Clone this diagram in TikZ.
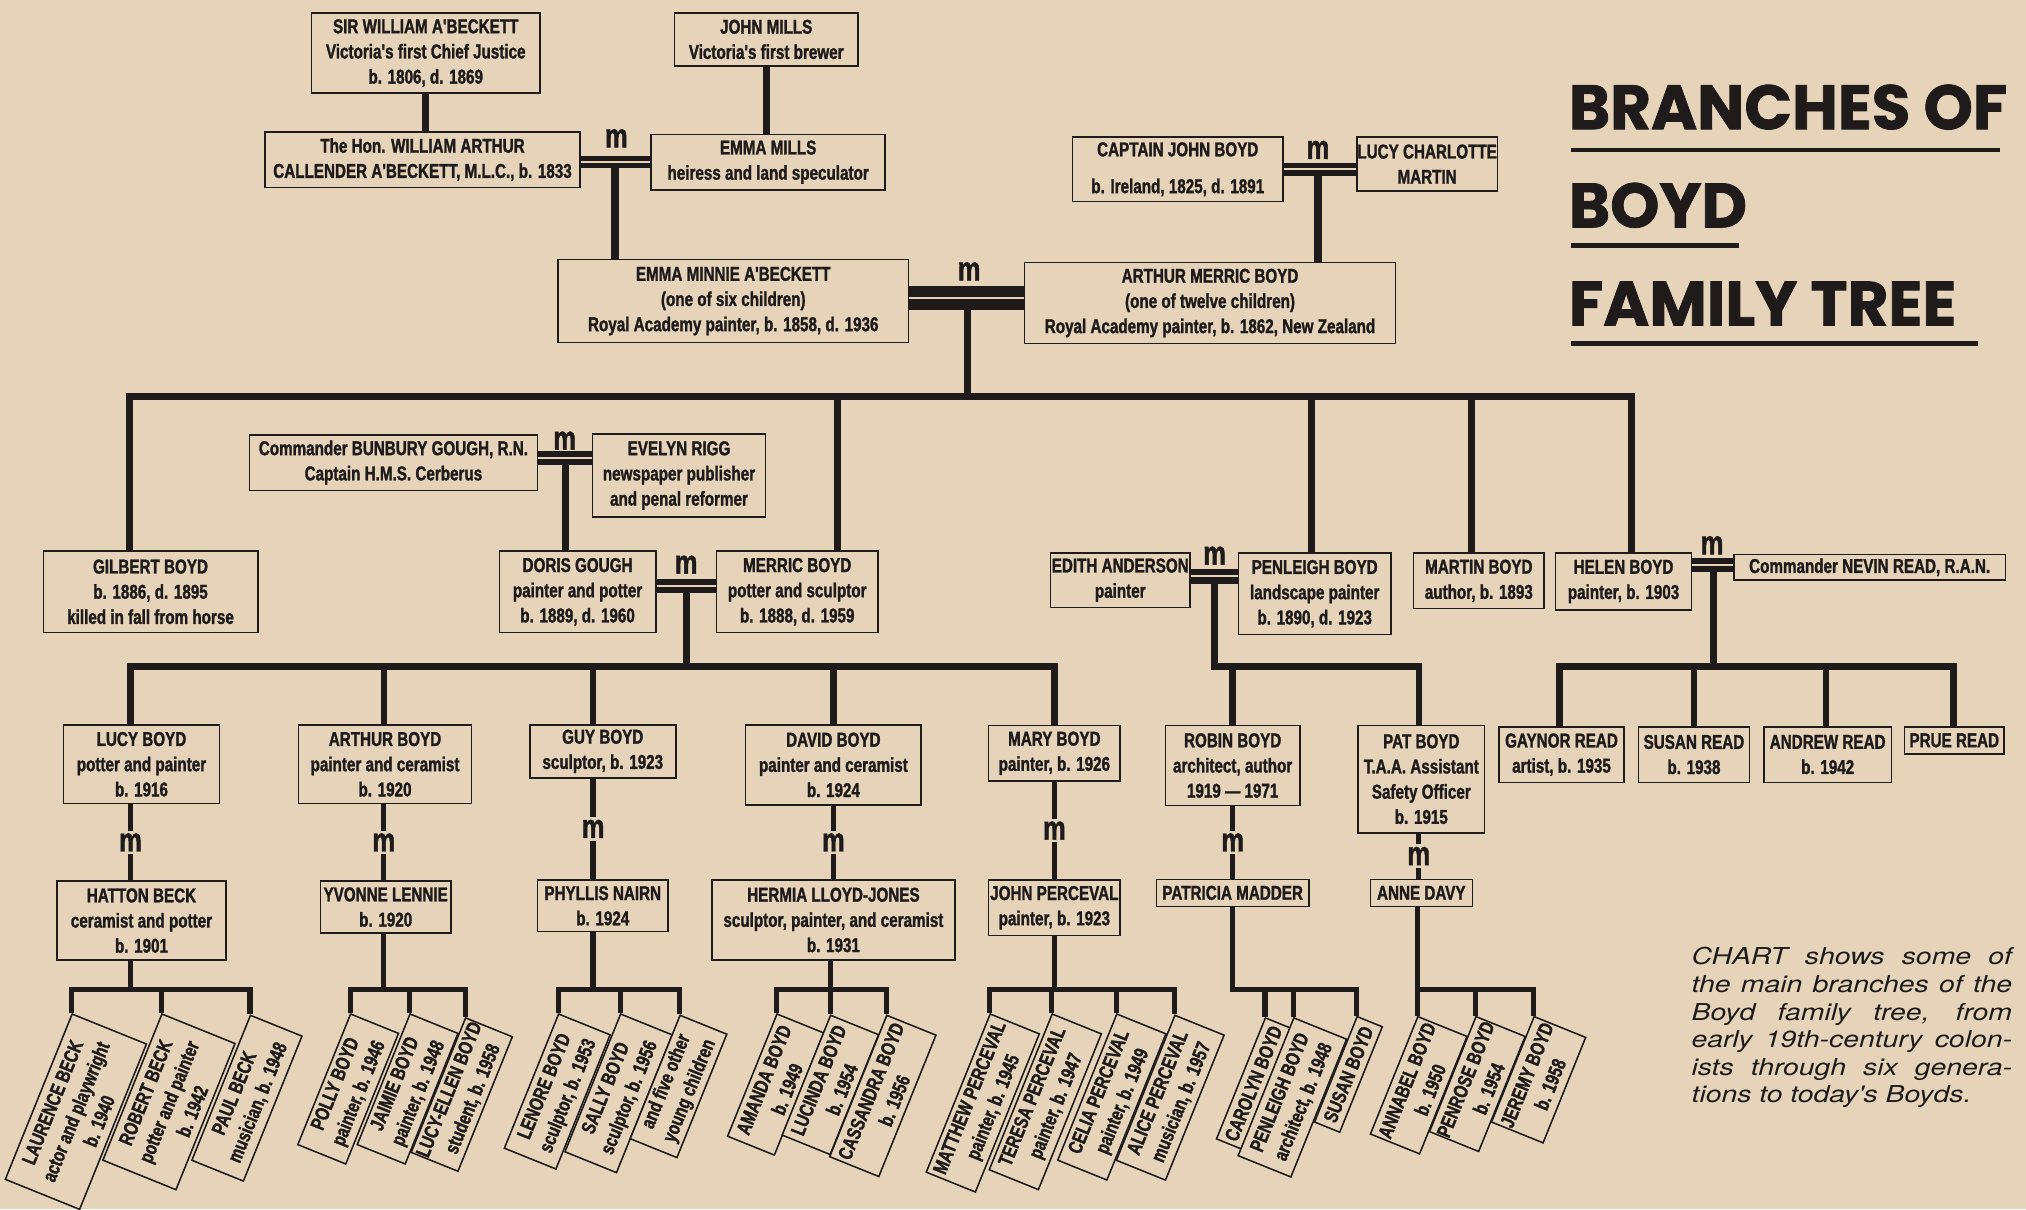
\documentclass[tikz,border=0pt]{standalone}
\usepackage{fontspec}
\newfontfamily\cond[FakeStretch=0.76, BoldFeatures={FakeBold=1.4}]{Liberation Sans}
\newfontfamily\titlefont[BoldFeatures={FakeBold=1.2}]{Poppins}
\newfontfamily\capfont[FakeStretch=1.22]{TeX Gyre Heros}
\usetikzlibrary{calc}
\definecolor{paper}{RGB}{229,212,185}
\definecolor{ink}{RGB}{30,27,26}

\begin{document}
\begin{tikzpicture}[
  x=1pt, y=-1pt,
  person/.style={
    draw=ink,
    line width=1.2pt,
    fill=paper,
    text=ink,
    inner sep=0.5pt,
    align=center,
    font=\cond\bfseries\fontsize{15.5}{19.5}\selectfont
  },
  dims/.style 2 args={minimum width=#1pt, minimum height=#2pt},
  kid/.style={person, rotate=68, anchor=north east},
  trunk/.style={ink, line width=5.5pt},
  twig/.style={ink, line width=4pt},
  wed/.style={ink, line width=#1pt, postaction={draw, paper, line width=1.4pt}},
  mlabel/.style={text=ink, inner sep=1pt, font=\cond\bfseries\fontsize{26}{26}\selectfont},
  mgap/.style={mlabel, fill=paper, inner sep=2pt},
  heading/.style={anchor=base west, inner sep=0pt, text=ink, font=\titlefont\bfseries\fontsize{48.5}{48.5}\selectfont},
  rule/.style={ink, line width=3.5pt}
]
  \useasboundingbox (0,0) rectangle (1568,936);
  \fill[paper] (0,0) rectangle (1568,936);

  % first generations
  \node[person, dims={177}{62}] (sirw) at (329.5,41)
    {SIR WILLIAM A'BECKETT\\Victoria's first Chief Justice\\b. 1806, d. 1869};
  \node[person, dims={142}{41}] (jmills) at (593,30.5)
    {JOHN MILLS\\Victoria's first brewer};
  \node[person, dims={244}{43}] (wabeck) at (327,123.5)
    {The Hon. WILLIAM ARTHUR\\CALLENDER A'BECKETT, M.L.C., b. 1833};
  \node[person, dims={181}{43}] (emills) at (594.5,125.5)
    {EMMA MILLS\\heiress and land speculator};
  \node[person, dims={163}{50}] (jboyd) at (911.5,131)
    {CAPTAIN JOHN BOYD\\[9pt]b. Ireland, 1825, d. 1891};
  \node[person, dims={107}{42}] (lcmartin) at (1104.5,127)
    {LUCY CHARLOTTE\\MARTIN};
  \node[person, dims={271}{64}] (eminnie) at (567.5,233)
    {EMMA MINNIE A'BECKETT\\(one of six children)\\Royal Academy painter, b. 1858, d. 1936};
  \node[person, dims={287}{63}] (amerric) at (936.5,234.5)
    {ARTHUR MERRIC BOYD\\(one of twelve children)\\Royal Academy painter, b. 1862, New Zealand};

  \draw[trunk] (sirw.south) -- (sirw.south |- wabeck.north);
  \draw[trunk] (jmills.south) -- (jmills.south |- emills.north);

  \coordinate (mAM) at (476,125.5);
  \draw[trunk] (mAM) -- (mAM |- eminnie.north);
  \draw[wed=9] (wabeck.east |- mAM) -- (emills.west |- mAM);
  \node[mlabel] (m1) at (477,107) {m};

  \coordinate (mBM) at (1020,131);
  \draw[trunk] (mBM) -- (mBM |- amerric.north);
  \draw[wed=10] (jboyd.east |- mBM) -- (lcmartin.west |- mBM);
  \node[mlabel] (m2) at (1020,116) {m};

  \coordinate (mMB) at (749,230.5);
  \coordinate (bigbar) at (749,307);
  \draw[trunk] (mMB) -- (bigbar);
  \draw[wed=19] (eminnie.east |- mMB) -- (amerric.west |- mMB);
  \node[mlabel] (m3) at (750,210) {m};

  % children of Arthur Merric Boyd
  \node[person, dims={223}{43}] (bgough) at (304.5,358)
    {Commander BUNBURY GOUGH, R.N.\\Captain H.M.S. Cerberus};
  \node[person, dims={134}{64}] (erigg) at (525.5,368)
    {EVELYN RIGG\\newspaper publisher\\and penal reformer};
  \node[person, dims={166}{63}] (gilbert) at (116.5,458)
    {GILBERT BOYD\\b. 1886, d. 1895\\killed in fall from horse};
  \node[person, dims={121}{63}] (doris) at (447,458)
    {DORIS GOUGH\\painter and potter\\b. 1889, d. 1960};
  \node[person, dims={125}{63}] (merric) at (617,458)
    {MERRIC BOYD\\potter and sculptor\\b. 1888, d. 1959};
  \node[person, dims={108}{42}] (edith) at (867,449)
    {EDITH ANDERSON\\painter};
  \node[person, dims={118}{63}] (penleigh) at (1017.5,459.5)
    {PENLEIGH BOYD\\landscape painter\\b. 1890, d. 1923};
  \node[person, dims={101}{43}] (martin) at (1144.5,449.5)
    {MARTIN BOYD\\author, b. 1893};
  \node[person, dims={105}{44}] (helen) at (1256.5,450)
    {HELEN BOYD\\painter, b. 1903};
  \node[person, dims={210}{20}] (nread) at (1447,439)
    {Commander NEVIN READ, R.A.N.};

  \coordinate (cGilbert) at (100,307);
  \coordinate (cMerric) at (648,307);
  \coordinate (cPenleigh) at (1015,307);
  \coordinate (cMartin) at (1139,307);
  \coordinate (cHelen) at (1263,307);
  \draw[trunk] (cGilbert |- gilbert.north) |- (cHelen) -- (cHelen |- helen.north);
  \draw[trunk] (cMerric) -- (cMerric |- merric.north);
  \draw[trunk] (cPenleigh) -- (cPenleigh |- penleigh.north);
  \draw[trunk] (cMartin) -- (cMartin |- martin.north);

  \coordinate (mGR) at (438,354.5);
  \draw[trunk] (mGR) -- (mGR |- doris.north);
  \draw[wed=11] (bgough.east |- mGR) -- (erigg.west |- mGR);
  \node[mlabel] (m4) at (437,341) {m};

  % grandchildren
  \node[person, dims={121}{61}] (lucy) at (109.5,591.5)
    {LUCY BOYD\\potter and painter\\b. 1916};
  \node[person, dims={134}{61}] (arthur) at (298,591.5)
    {ARTHUR BOYD\\painter and ceramist\\b. 1920};
  \node[person, dims={113}{41}] (guy) at (466.5,581.5)
    {GUY BOYD\\sculptor, b. 1923};
  \node[person, dims={136}{62}] (david) at (645,592)
    {DAVID BOYD\\painter and ceramist\\b. 1924};
  \node[person, dims={102}{43}] (mary) at (816,583)
    {MARY BOYD\\painter, b. 1926};
  \node[person, dims={104}{62}] (robin) at (954,592.5)
    {ROBIN BOYD\\architect, author\\1919 — 1971};
  \node[person, dims={98}{83}] (pat) at (1100,603)
    {PAT BOYD\\T.A.A. Assistant\\Safety Officer\\b. 1915};
  \node[person, dims={97}{43}] (gaynor) at (1208.5,584)
    {GAYNOR READ\\artist, b. 1935};
  \node[person, dims={86}{43}] (susan) at (1311,584)
    {SUSAN READ\\b. 1938};
  \node[person, dims={99}{43}] (andrew) at (1414.5,584)
    {ANDREW READ\\b. 1942};
  \node[person, dims={77}{21}] (prue) at (1512.5,573)
    {PRUE READ};

  \node[person, dims={131}{61}] (hatton) at (109.5,712.5)
    {HATTON BECK\\ceramist and potter\\b. 1901};
  \node[person, dims={101}{40}] (yvonne) at (298.5,702)
    {YVONNE LENNIE\\b. 1920};
  \node[person, dims={101}{40}] (phyllis) at (466.5,701)
    {PHYLLIS NAIRN\\b. 1924};
  \node[person, dims={188}{62}] (hermia) at (645,712)
    {HERMIA LLOYD-JONES\\sculptor, painter, and ceramist\\b. 1931};
  \node[person, dims={102}{43}] (jperceval) at (816,702.5)
    {JOHN PERCEVAL\\painter, b. 1923};
  \node[person, dims={118}{21}] (patricia) at (954,691)
    {PATRICIA MADDER};
  \node[person, dims={79}{21}] (anne) at (1100,691)
    {ANNE DAVY};

  \coordinate (mDM) at (531,453.5);
  \coordinate (kBar) at (531,516);
  \draw[trunk] (mDM) -- (kBar);
  \draw[wed=11] (doris.east |- mDM) -- (merric.west |- mDM);
  \node[mlabel] (m5) at (531,437) {m};

  \coordinate (cLucy) at (101,516);
  \coordinate (cArthur) at (297,516);
  \coordinate (cGuy) at (459,516);
  \coordinate (cDavid) at (645,516);
  \coordinate (cMary) at (816,516);
  \draw[twig, line width=5pt] (cLucy |- lucy.north) |- (cMary) -- (cMary |- mary.north);
  \draw[twig, line width=5pt] (cArthur) -- (cArthur |- arthur.north);
  \draw[twig, line width=5pt] (cGuy) -- (cGuy |- guy.north);
  \draw[twig, line width=5pt] (cDavid) -- (cDavid |- david.north);

  \coordinate (mEP) at (940,446);
  \coordinate (cRobin) at (954,516);
  \coordinate (cPat) at (1098,516);
  \draw[twig, line width=5pt] (mEP) |- (cPat) -- (cPat |- pat.north);
  \draw[twig, line width=5pt] (cRobin) -- (cRobin |- robin.north);
  \draw[wed=12] (edith.east |- mEP) -- (penleigh.west |- mEP);
  \node[mlabel] (m6) at (940,430) {m};

  \coordinate (mHN) at (1326,437);
  \coordinate (cGaynor) at (1207,516);
  \coordinate (cSusan) at (1311,516);
  \coordinate (cAndrew) at (1413,516);
  \coordinate (cPrue) at (1512,516);
  \draw[twig, line width=5pt] (mHN) -- (mHN |- cPrue);
  \draw[twig, line width=5pt] (cGaynor |- gaynor.north) |- (cPrue) -- (cPrue |- prue.north);
  \draw[twig, line width=5pt] (cSusan) -- (cSusan |- susan.north);
  \draw[twig, line width=5pt] (cAndrew) -- (cAndrew |- andrew.north);
  \draw[wed=11] (helen.east |- mHN) -- (nread.west |- mHN);
  \node[mlabel] (m7) at (1325,422) {m};

  \draw[twig] (cLucy |- lucy.south) -- node[mgap] (mLucy) {m} (cLucy |- hatton.north);
  \draw[twig] (cArthur |- arthur.south) -- node[mgap] (mArthur) {m} (cArthur |- yvonne.north);
  \draw[twig] (cGuy |- guy.south) -- node[mgap] (mGuy) {m} (cGuy |- phyllis.north);
  \draw[twig] (cDavid |- david.south) -- node[mgap] (mDavid) {m} (cDavid |- hermia.north);
  \draw[twig] (cMary |- mary.south) -- node[mgap] (mMary) {m} (cMary |- jperceval.north);
  \draw[twig] (cRobin |- robin.south) -- node[mgap] (mRobin) {m} (cRobin |- patricia.north);
  \draw[twig] (cPat |- pat.south) -- node[mgap] (mPat) {m} (cPat |- anne.north);

  % great-grandchildren
  \node[kid, dims={138}{62}] (laurence) at (55.5,784) {LAURENCE BECK\\actor and playwright\\b. 1940};
  \node[kid, dims={122}{61}] (robert) at (125,784) {ROBERT BECK\\potter and painter\\b. 1942};
  \node[kid, dims={121}{43}] (paul) at (193.5,785) {PAUL BECK\\musician, b. 1948};

  \node[kid, dims={109}{40}] (polly) at (271,784) {POLLY BOYD\\painter, b. 1946};
  \node[kid, dims={109}{40}] (jaimie) at (317,784) {JAIMIE BOYD\\painter, b. 1948};
  \node[kid, dims={112}{39}] (lucyellen) at (360,787) {LUCY-ELLEN BOYD\\student, b. 1958};

  \node[kid, dims={112}{43}] (lenore) at (432,784) {LENORE BOYD\\sculptor, b. 1953};
  \node[kid, dims={115}{43}] (sally) at (480,784) {SALLY BOYD\\sculptor, b. 1956};
  \node[kid, dims={103}{39}] (fiveother) at (526,785) {and five other\\young children};

  \node[kid, dims={102}{39}] (amanda) at (601,784) {AMANDA BOYD\\b. 1949};
  \node[kid, dims={100}{40}] (lucinda) at (642.5,785) {LUCINDA BOYD\\b. 1954};
  \node[kid, dims={118}{41}] (cassandra) at (686,785) {CASSANDRA BOYD\\b. 1956};

  \node[kid, dims={132}{41}] (matthew) at (766,784) {MATTHEW PERCEVAL\\painter, b. 1945};
  \node[kid, dims={130}{41}] (teresa) at (814,784) {TERESA PERCEVAL\\painter, b. 1947};
  \node[kid, dims={122}{41}] (celia) at (864,784) {CELIA PERCEVAL\\painter, b. 1949};
  \node[kid, dims={121}{41}] (alice) at (909,785) {ALICE PERCEVAL\\musician, b. 1957};

  \node[kid, dims={101}{21}] (carolyn) at (979,787) {CAROLYN BOYD};
  \node[kid, dims={115}{44}] (penleighjr) at (1001,787) {PENLEIGH BOYD\\architect, b. 1948};
  \node[kid, dims={88}{21}] (susanb) at (1050,786) {SUSAN BOYD};

  \node[kid, dims={98}{41}] (annabel) at (1097,786) {ANNABEL BOYD\\b. 1950};
  \node[kid, dims={96}{41}] (penrose) at (1142,786) {PENROSE BOYD\\b. 1954};
  \node[kid, dims={88}{43}] (jeremy) at (1187,786) {JEREMY BOYD\\b. 1958};

  \coordinate (gBeck) at (101,766);
  \coordinate (gArthur) at (297,766);
  \coordinate (gGuy) at (459,766);
  \coordinate (gDavid) at (643,766);
  \coordinate (gMary) at (816,766);
  \coordinate (gRobin) at (954,766);
  \coordinate (gPat) at (1097,766);

  \draw[twig] (cLucy |- hatton.south) -- (gBeck);
  \draw[twig] (laurence.north east) |- (gBeck) -| (paul.north east);
  \draw[twig] (robert.north east) -- (robert.north east |- gBeck);

  \draw[twig] (cArthur |- yvonne.south) -- (gArthur);
  \draw[twig] (polly.north east) |- (gArthur) -| (lucyellen.north east);
  \draw[twig] (jaimie.north east) -- (jaimie.north east |- gArthur);

  \draw[twig] (cGuy |- phyllis.south) -- (gGuy);
  \draw[twig] (lenore.north east) |- (gGuy) -| (fiveother.north east);
  \draw[twig] (sally.north east) -- (sally.north east |- gGuy);

  \draw[twig] (gDavid |- hermia.south) -- (gDavid);
  \draw[twig] (amanda.north east) |- (gDavid) -| (cassandra.north east);
  \draw[twig] (lucinda.north east) -- (lucinda.north east |- gDavid);

  \draw[twig] (cMary |- jperceval.south) -- (gMary);
  \draw[twig] (matthew.north east) |- (gMary) -| (alice.north east);
  \draw[twig] (teresa.north east) -- (teresa.north east |- gMary);
  \draw[twig] (celia.north east) -- (celia.north east |- gMary);

  \draw[twig] (cRobin |- patricia.south) -- (gRobin) -| (susanb.north east);
  \draw[twig] (carolyn.north east) -- (carolyn.north east |- gRobin);
  \draw[twig] (penleighjr.north east) -- (penleighjr.north east |- gRobin);

  \draw[twig] (gPat |- anne.south) -- (annabel.north east);
  \draw[twig] (gPat) -| (jeremy.north east);
  \draw[twig] (penrose.north east) -- (penrose.north east |- gPat);

  % title and note
  \node[heading] (title1) at (1214,100) {BRANCHES OF};
  \node[heading] (title2) at (1214,176) {BOYD};
  \node[heading] (title3) at (1214,252) {FAMILY TREE};
  \draw[rule] (1216,116) -- (1548,116);
  \draw[rule] (1216,190) -- (1346,190);
  \draw[rule] (1216,266) -- (1531,266);

  \node[anchor=north west, inner sep=0pt, text width=248pt, align=justify, text=ink,
    font=\capfont\itshape\fontsize{18}{21.4}\selectfont] (note) at (1309,733)
    {\parfillskip=0pt CHART shows some of\linebreak the main branches of the\linebreak
     Boyd family tree, from\linebreak early 19th-century colon-\linebreak
     ists through six genera-\linebreak tions to today's Boyds.};
\end{tikzpicture}
\end{document}
